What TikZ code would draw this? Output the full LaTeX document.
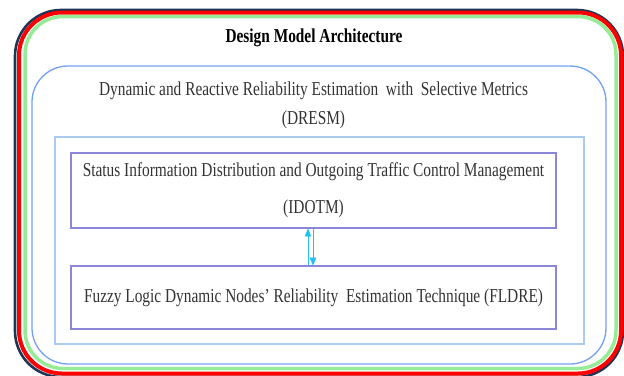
\documentclass[tikz,border=0pt]{standalone}
\usepackage{fontspec}
\setmainfont{Liberation Serif}[FakeStretch=0.78]
\usepackage{tikz}
\usetikzlibrary{arrows}
\definecolor{frameNavy}{HTML}{1F3556}
\definecolor{frameRed}{HTML}{FF0000}
\definecolor{frameGreen}{HTML}{96EC96}
\definecolor{outerBlue}{HTML}{74A0F2}
\definecolor{innerBlue}{HTML}{A9CBEE}
\definecolor{boxPurple}{HTML}{8C86D8}
\definecolor{linkCyan}{HTML}{1EC0F5}

\begin{document}
\begin{tikzpicture}[x=1pt,y=-1pt,
        lbl/.style={text=black!80, font=\fontsize{19.7}{24}\selectfont, align=center, inner sep=0pt},
        box/.style={lbl, draw=boxPurple, line width=1.1pt, minimum width=485pt},
        link/.style={draw=linkCyan, line width=0.8pt, -triangle 45}]
        \useasboundingbox (0,0) rectangle (624,375);
        \draw[frameNavy, line width=2.6pt, rounded corners=46pt] (15,10) rectangle (623,377);
        \draw[frameRed, line width=4pt, rounded corners=43pt] (19,12.5) rectangle (621,373.5);
        \draw[frameGreen, line width=3.5pt, rounded corners=38pt] (25,16.5) rectangle (616,368.5);
        \draw[outerBlue, line width=1.3pt, rounded corners=36pt] (32,66) rectangle (606,364);
        \draw[innerBlue, line width=1.3pt] (55,137) rectangle (584,344);
        \node (title) [lbl, text=black, font=\fontsize{19.7}{24}\selectfont\bfseries] at (314,38) {Design Model Architecture};
        \node (dresm) [lbl] at (313.5,105.5) {Dynamic and Reactive Reliability Estimation~ with~ Selective Metrics\\[5pt] (DRESM)};
        \node (idotm) [box, minimum height=75pt] at (313.5,190.5) {Status Information Distribution and Outgoing Traffic Control Management\\[13pt] (IDOTM)};
        \node (fldre) [box, minimum height=63pt] at (313.5,297.5) {Fuzzy Logic Dynamic Nodes’ Reliability~ Estimation Technique (FLDRE)};
        \draw[link] ([xshift=-5.5pt]fldre.north) -- ([xshift=-5.5pt]idotm.south);
        \draw[link] ([xshift=-0.5pt]idotm.south) -- ([xshift=-0.5pt]fldre.north);
\end{tikzpicture}
\end{document}
